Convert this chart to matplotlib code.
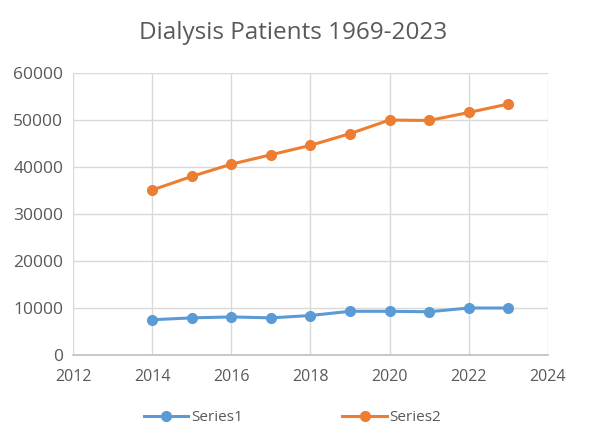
import matplotlib.pyplot as plt

years = [2014, 2015, 2016, 2017, 2018, 2019, 2020, 2021, 2022, 2023]
series1 = [7500, 7900, 8100, 7900, 8400, 9300, 9300, 9200, 10000, 10000]
series2 = [35100, 38000, 40600, 42600, 44600, 47100, 50000, 49900, 51600, 53400]
x_ticks = [2012, 2014, 2016, 2018, 2020, 2022, 2024]
y_ticks = [0, 10000, 20000, 30000, 40000, 50000, 60000]

plt.rcParams['font.family'] = ['Open Sans', 'DejaVu Sans']

fig = plt.figure(figsize=(5.89, 4.48), dpi=100)
ax = fig.add_axes([0.124, 0.2076, 0.806, 0.6294])

ax.plot(years, series1, color='#5b9bd5', linewidth=2.2, marker='o', markersize=7, label='Series1')
ax.plot(years, series2, color='#ed7d31', linewidth=2.2, marker='o', markersize=7, label='Series2')

ax.set_xlim(2012, 2024)
ax.set_ylim(0, 60000)
ax.set_xticks(x_ticks)
ax.set_yticks(y_ticks)
ax.tick_params(length=0, colors='#595959')
ax.tick_params(axis='y', labelsize=12.5, pad=7)
ax.tick_params(axis='x', labelsize=11.5, pad=10)
ax.grid(True, color='#d9d9d9', linewidth=1)
ax.set_axisbelow(True)
for s in ['top', 'right', 'left']:
    ax.spines[s].set_visible(False)
ax.spines['bottom'].set_color('#bfbfbf')
ax.spines['bottom'].set_linewidth(1.2)

fig.text(0.497, 0.926, 'Dialysis Patients 1969-2023', ha='center', va='center',
         fontsize=17.5, color='#595959')
fig.legend(loc='center', bbox_to_anchor=(0.497, 0.067), ncol=2, frameon=False,
           fontsize=11, labelcolor='#595959', columnspacing=6.5,
           handlelength=2.9, handletextpad=0.2)

fig.savefig('out.png', dpi=100)
